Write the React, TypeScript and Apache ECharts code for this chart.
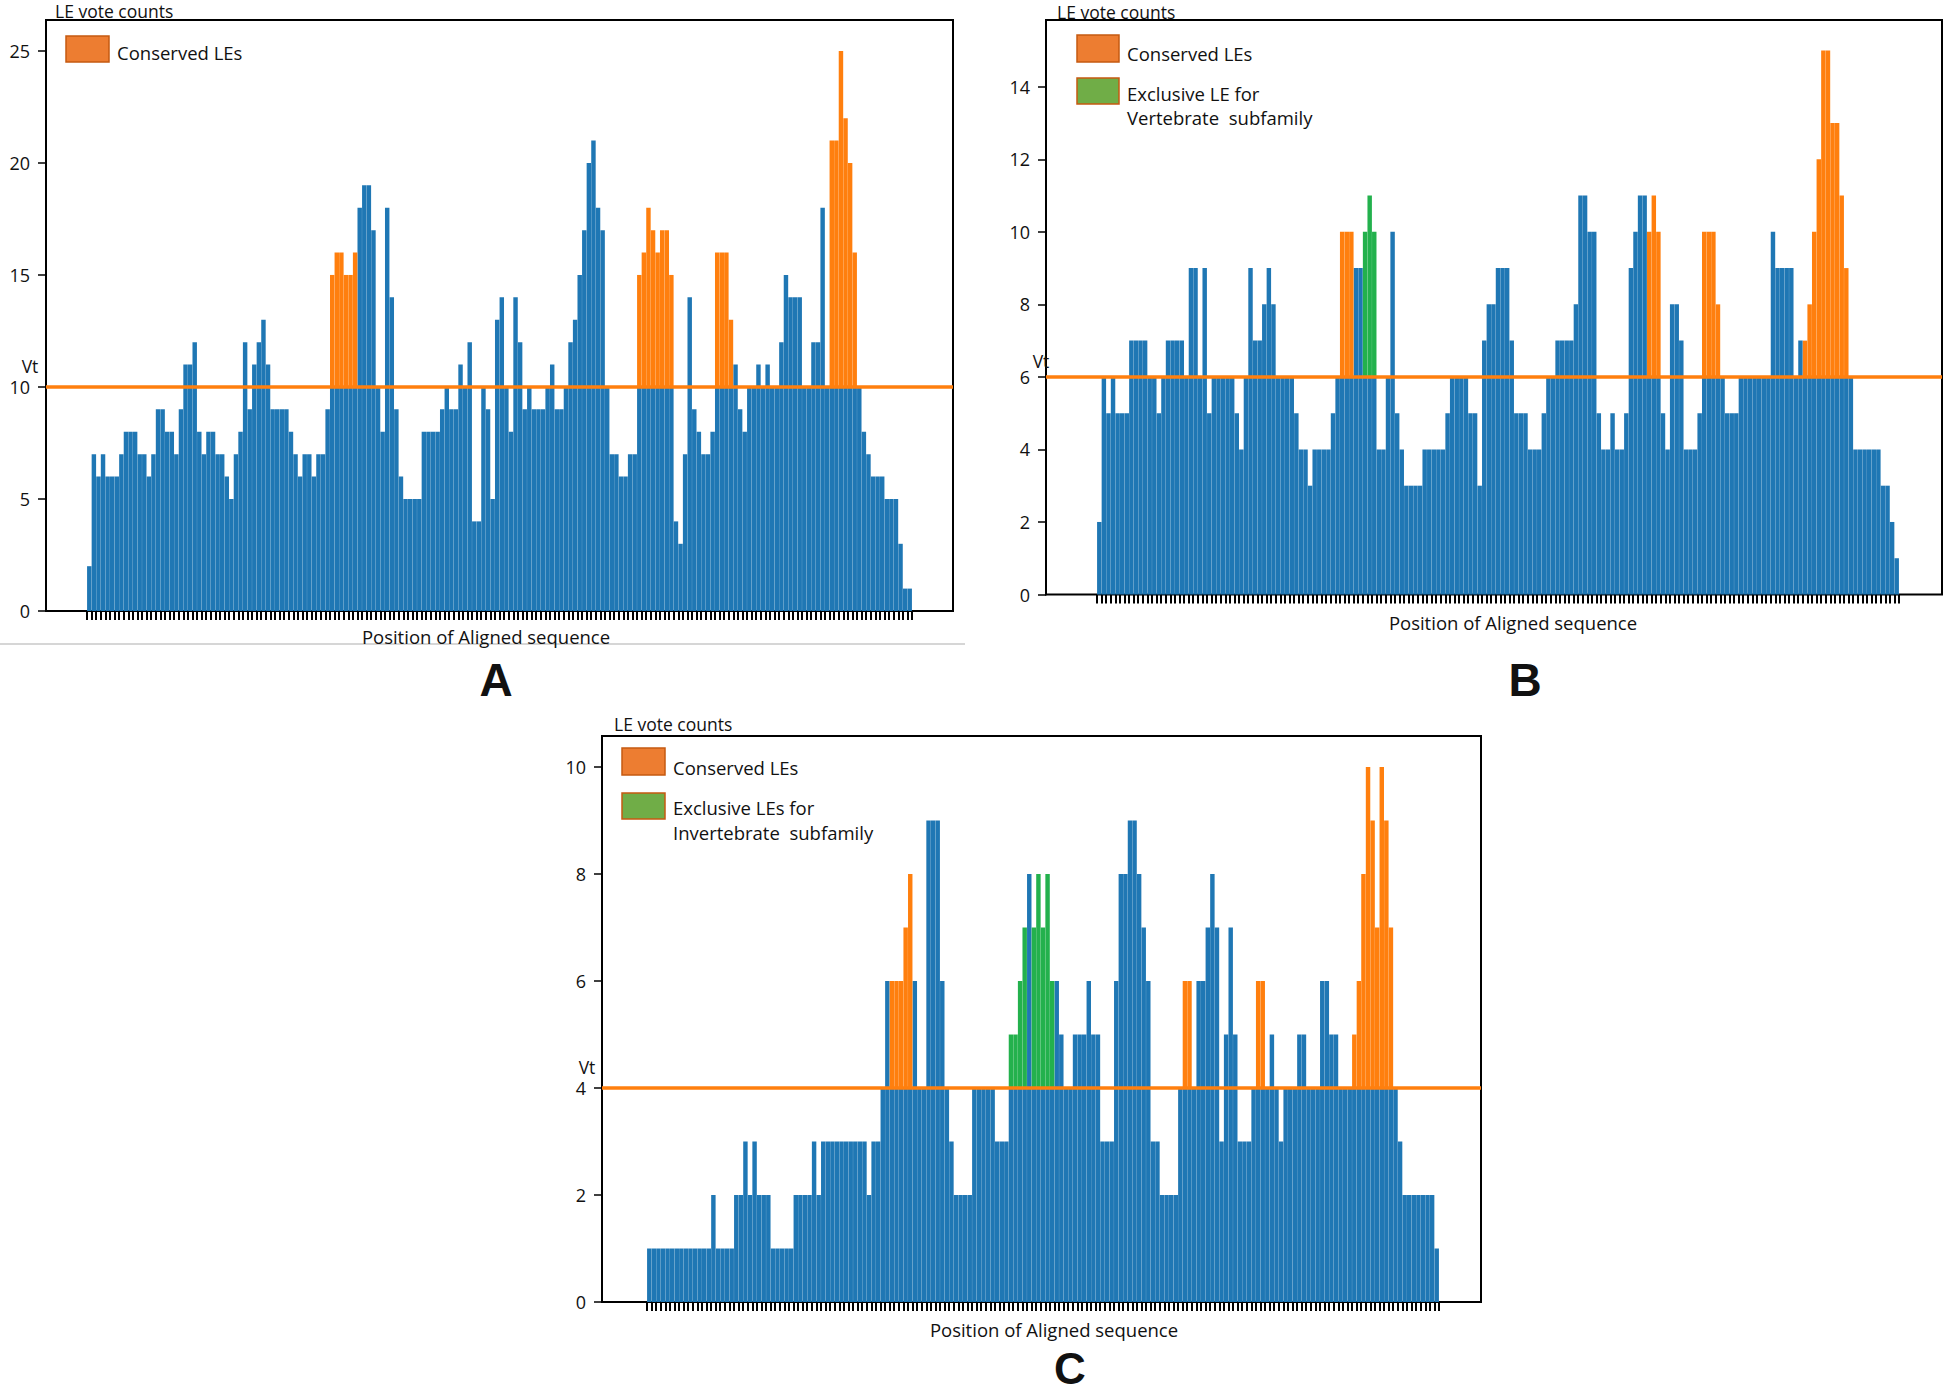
import React, { useEffect, useRef } from "react";
import * as echarts from "echarts";

// ---------------- DATA ----------------
const VALUES_A = [
  2, 7, 6, 7, 6, 6, 6, 7, 8, 8, 8, 7, 7, 6, 7, 9, 9, 8, 8, 7, 9, 11, 11, 12, 8, 7, 8, 8, 7, 7, 6, 5, 7, 8, 12, 9, 11, 12, 13, 11, 9, 9, 9, 9, 8, 7, 6, 7, 7, 6, 7, 7, 9, 15, 16, 16, 15, 15, 16, 18,
  19, 19, 17, 10, 8, 18, 14, 9, 6, 5, 5, 5, 5, 8, 8, 8, 8, 9, 10, 9, 9, 11, 10, 12, 4, 4, 10, 9, 5, 13, 14, 10, 8, 14, 12, 9, 10, 9, 9, 9, 10, 11, 9, 9, 10, 12, 13, 15, 17, 20, 21, 18, 17, 10, 7, 7, 6, 6, 7, 7, 15, 16,
  18, 17, 16, 17, 17, 15, 4, 3, 7, 14, 9, 8, 7, 7, 8, 16, 16, 16, 13, 11, 9, 8, 10, 10, 11, 10, 11, 10, 10, 12, 15, 14, 14, 14, 10, 10, 12, 12, 18, 10, 21, 21, 25, 22, 20, 16, 10, 8, 7, 6, 6, 6, 5, 5, 5, 3, 1, 1,
];
const CONSERVED_A = [[53, 58], [120, 127], [137, 140], [162, 167]];
const EXCLUSIVE_A: number[][] = [];
const VT_A = 10;
const Y_TICKS_A = [0, 5, 10, 15, 20, 25];

const VALUES_B = [
  2, 6, 5, 6, 5, 5, 5, 7, 7, 7, 7, 6, 6, 5, 6, 7, 7, 7, 7, 6, 9, 9, 6, 9, 5, 6, 6, 6, 6, 6, 5, 4, 6, 9, 7, 7, 8, 9, 8, 6, 6, 6, 6, 5, 4, 4, 3, 4, 4, 4, 4, 5, 6, 10, 10, 10, 9, 9, 10,
  11, 10, 4, 4, 6, 10, 5, 4, 3, 3, 3, 3, 4, 4, 4, 4, 4, 5, 6, 6, 6, 6, 5, 5, 3, 7, 8, 8, 9, 9, 9, 7, 5, 5, 5, 4, 4, 4, 5, 6, 6, 7, 7, 7, 7, 8, 11, 11, 10, 10, 5, 4, 4, 5, 4, 4, 5, 9, 10,
  11, 11, 10, 11, 10, 5, 4, 8, 8, 7, 4, 4, 4, 5, 10, 10, 10, 8, 6, 5, 5, 5, 6, 6, 6, 6, 6, 6, 6, 10, 9, 9, 9, 9, 6, 7, 7, 8, 10, 12, 15, 15, 13, 13, 11, 9, 6, 4, 4, 4, 4, 4, 4, 3, 3, 2, 1,
];
const CONSERVED_B = [[53, 55], [120, 122], [132, 135], [154, 163]];
const EXCLUSIVE_B = [[58, 60]];
const VT_B = 6;
const Y_TICKS_B = [0, 2, 4, 6, 8, 10, 12, 14];

const VALUES_C = [
  1, 1, 1, 1, 1, 1, 1, 1, 1, 1, 1, 1, 1, 1, 2, 1, 1, 1, 1, 2, 2, 3, 2, 3, 2, 2, 2, 1, 1, 1, 1, 1, 2, 2, 2, 2, 3, 2, 3, 3, 3, 3, 3, 3, 3, 3, 3, 3, 2, 3, 3, 4, 6, 6, 6, 6,
  7, 8, 6, 4, 4, 9, 9, 9, 6, 4, 3, 2, 2, 2, 2, 4, 4, 4, 4, 4, 3, 3, 3, 5, 5, 6, 7, 8, 7, 8, 7, 8, 6, 6, 5, 4, 4, 5, 5, 5, 6, 5, 5, 3, 3, 3, 6, 8, 8, 9, 9, 8, 7, 6, 3, 3, 2, 2, 2,
  2, 4, 6, 6, 4, 6, 6, 7, 8, 7, 3, 5, 7, 5, 3, 3, 3, 4, 6, 6, 4, 5, 4, 3, 4, 4, 4, 5, 5, 4, 4, 4, 6, 6, 5, 5, 4, 4, 4, 5, 6, 8, 10, 9, 7, 10, 9, 7, 4, 3, 2, 2, 2, 2, 2, 2, 2, 1,
];
const CONSERVED_C = [[53, 57], [117, 118], [133, 134], [154, 162]];
const EXCLUSIVE_C = [[79, 82], [84, 88]];
const VT_C = 4;
const Y_TICKS_C = [0, 2, 4, 6, 8, 10];

const Y_TITLE = "LE vote counts";
const X_TITLE = "Position of Aligned sequence";
const VT_LABEL = "Vt";
const LEGEND_A = ["Conserved LEs"];
const LEGEND_B = ["Conserved LEs", "Exclusive LE for", "Vertebrate  subfamily"];
const LEGEND_C = ["Conserved LEs", "Exclusive LEs for", "Invertebrate  subfamily"];
const PANEL_LETTERS = ["A", "B", "C"];

// ---------------- STYLE ----------------
const BLUE = "#1f77b4";
const ORANGE = "#ff7f0e";
const GREEN = "#23b14d";
const LEG_ORANGE = "#ed7d31";
const LEG_GREEN = "#70ad47";
const LEG_BORDER = "#c55a11";
const FONT = "Open Sans";

type Layout = {
  outer: { left: number; top: number; width: number; height: number };
  innerLeft: number;
  innerWidth: number;
  yMax: number;
};

const LAYOUT_A: Layout = { outer: { left: 46, top: 20, width: 907, height: 591 }, innerLeft: 87, innerWidth: 825, yMax: 26.38 };
const LAYOUT_B: Layout = { outer: { left: 1046, top: 20, width: 896, height: 574.5 }, innerLeft: 1097, innerWidth: 802, yMax: 15.84 };
const LAYOUT_C: Layout = { outer: { left: 602, top: 736, width: 879, height: 566 }, innerLeft: 647, innerWidth: 792, yMax: 10.58 };

function inRanges(i: number, ranges: number[][]) {
  return ranges.some(([a, b]) => i >= a && i <= b);
}

function addPanel(
  opt: any,
  k: number,
  values: number[],
  vt: number,
  conserved: number[][],
  exclusive: number[][],
  yTicks: number[],
  L: Layout
) {
  const oIdx = 2 * k;
  const iIdx = 2 * k + 1;
  const cats = values.map((_, i) => String(i + 1));
  opt.grid.push({
    left: L.outer.left, top: L.outer.top, width: L.outer.width, height: L.outer.height,
    show: true, borderColor: "#000", borderWidth: 2, backgroundColor: "transparent",
    containLabel: false, outerBoundsMode: "none",
  });
  opt.grid.push({
    left: L.innerLeft, top: L.outer.top, width: L.innerWidth, height: L.outer.height,
    show: false, containLabel: false, outerBoundsMode: "none",
  });
  opt.xAxis.push({ type: "value", gridIndex: oIdx, min: 0, max: 1, show: false });
  opt.xAxis.push({
    type: "category", gridIndex: iIdx, data: cats, boundaryGap: true,
    axisLine: { show: false },
    axisTick: { show: true, inside: false, interval: 0, length: 9, lineStyle: { color: "#000", width: 2 } },
    axisLabel: { show: false },
    splitLine: { show: false },
  });
  opt.yAxis.push({
    type: "value", gridIndex: oIdx, min: 0, max: L.yMax,
    axisLine: { show: true, lineStyle: { color: "#000", width: 2 } },
    axisTick: { show: true, inside: false, length: 8, customValues: yTicks, lineStyle: { color: "#000", width: 1.5 } },
    axisLabel: { show: true, customValues: yTicks, margin: 16, fontSize: 18, fontFamily: FONT, color: "#111" },
    splitLine: { show: false },
  });
  opt.yAxis.push({ type: "value", gridIndex: iIdx, min: 0, max: L.yMax, show: false, splitLine: { show: false } });

  const isHi = (i: number) => inRanges(i, conserved) || inRanges(i, exclusive);
  const blue = values.map((v, i) => (isHi(i) ? Math.min(v, vt) : v));
  const orange = values.map((v, i) => (inRanges(i, conserved) && v > vt ? v - vt : "-"));
  const green = values.map((v, i) => (inRanges(i, exclusive) && v > vt ? v - vt : "-"));
  const barBase = {
    type: "bar", xAxisIndex: iIdx, yAxisIndex: iIdx, stack: "s" + k,
    barCategoryGap: "3%", silent: true, z: 2,
  };
  opt.series.push({ ...barBase, name: "blue" + k, data: blue, itemStyle: { color: BLUE } });
  opt.series.push({ ...barBase, name: "orange" + k, data: orange, itemStyle: { color: ORANGE } });
  opt.series.push({ ...barBase, name: "green" + k, data: green, itemStyle: { color: GREEN } });
  opt.series.push({
    type: "line", xAxisIndex: oIdx, yAxisIndex: oIdx, data: [[0, vt], [1, vt]],
    symbol: "none", silent: true, z: 5, clip: false,
    lineStyle: { color: ORANGE, width: 3.5 },
  });
}

function txt(text: string, x: number, y: number, size: number, align = "left", bold = false, family = FONT) {
  return {
    type: "text", x, y, silent: true, z: 10,
    style: {
      text, fill: "#111", fontSize: size, fontFamily: family, fontWeight: bold ? "bold" : "normal",
      align, verticalAlign: "middle", textAlign: align, textVerticalAlign: "middle",
    },
  };
}

function box(x: number, y: number, w: number, h: number, fill: string) {
  return {
    type: "rect", shape: { x, y, width: w, height: h }, silent: true, z: 10,
    style: { fill, stroke: LEG_BORDER, lineWidth: 1.5 },
  };
}

export default function App() {
  const ref = useRef<HTMLDivElement>(null);
  useEffect(() => {
    document.body.style.margin = "0";
    if (!ref.current) return;
    const chart = echarts.init(ref.current, null, { renderer: "svg" });
    const opt: any = { animation: false, backgroundColor: "#fff", grid: [], xAxis: [], yAxis: [], series: [] };
    addPanel(opt, 0, VALUES_A, VT_A, CONSERVED_A, EXCLUSIVE_A, Y_TICKS_A, LAYOUT_A);
    addPanel(opt, 1, VALUES_B, VT_B, CONSERVED_B, EXCLUSIVE_B, Y_TICKS_B, LAYOUT_B);
    addPanel(opt, 2, VALUES_C, VT_C, CONSERVED_C, EXCLUSIVE_C, Y_TICKS_C, LAYOUT_C);

    opt.graphic = [
      { type: "line", silent: true, shape: { x1: 0, y1: 644, x2: 965, y2: 644 }, style: { stroke: "#c8c8c8", lineWidth: 1.5 } },
      // Panel A
      txt(Y_TITLE, 55, 11, 17.5),
      txt(VT_LABEL, 30, 366, 17.5, "center"),
      txt(X_TITLE, 486, 636, 18.5, "center"),
      txt(PANEL_LETTERS[0], 496, 680, 46, "center", true, "Liberation Sans"),
      box(66, 36, 43, 26, LEG_ORANGE),
      txt(LEGEND_A[0], 117, 52, 18.5),
      // Panel B
      txt(Y_TITLE, 1057, 12, 17.5),
      txt(VT_LABEL, 1041, 361, 17.5, "center"),
      txt(X_TITLE, 1513, 622, 18.5, "center"),
      txt(PANEL_LETTERS[1], 1525, 680, 46, "center", true, "Liberation Sans"),
      box(1077, 35, 42, 27, LEG_ORANGE),
      txt(LEGEND_B[0], 1127, 53, 18.5),
      box(1077, 78, 42, 26, LEG_GREEN),
      txt(LEGEND_B[1], 1127, 93, 18.5),
      txt(LEGEND_B[2], 1127, 117, 18.5),
      // Panel C
      txt(Y_TITLE, 614, 724, 17.5),
      txt(VT_LABEL, 587, 1067, 17.5, "center"),
      txt(X_TITLE, 1054, 1329, 18.5, "center"),
      txt(PANEL_LETTERS[2], 1070, 1368, 44, "center", true, "Liberation Sans"),
      box(622, 748, 43, 27, LEG_ORANGE),
      txt(LEGEND_C[0], 673, 767, 18.5),
      box(622, 793, 43, 26, LEG_GREEN),
      txt(LEGEND_C[1], 673, 807, 18.5),
      txt(LEGEND_C[2], 673, 832, 18.5),
    ];
    chart.setOption(opt);
    return () => chart.dispose();
  }, []);
  return <div ref={ref} style={{ width: 1946, height: 1391 }} />;
}
